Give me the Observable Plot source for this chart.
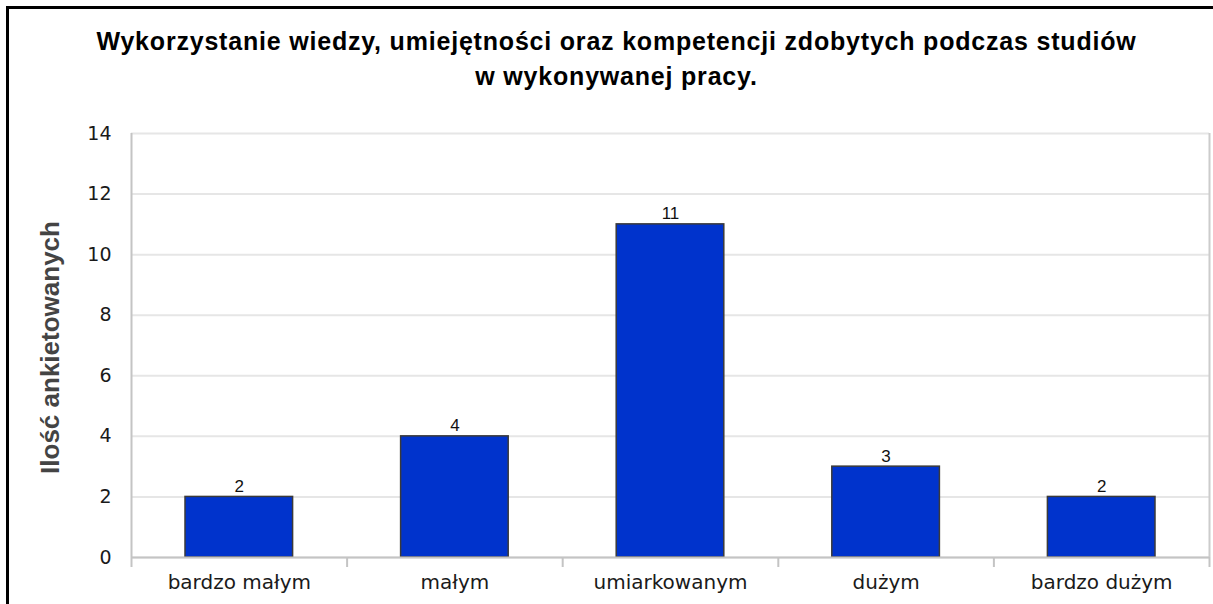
<!DOCTYPE html>
<html><head><meta charset="utf-8">
<script src="https://cdn.jsdelivr.net/npm/d3@7"></script>
<script src="https://cdn.jsdelivr.net/npm/@observablehq/plot@0.6"></script>
<style>
html,body{margin:0;padding:0;background:#fff;overflow:hidden;}
#frame{position:absolute;left:6px;top:6px;width:1220px;height:620px;border-left:3px solid #000;border-top:3px solid #000;box-sizing:border-box;}
#title{position:absolute;left:0;top:24px;width:1233px;text-align:center;font-family:"Liberation Sans",Arial,sans-serif;font-weight:bold;font-size:25px;line-height:35px;color:#000;letter-spacing:0.8px;}
#chart{position:absolute;left:0;top:0;}
</style></head>
<body>
<div id="frame"></div>
<div id="title">Wykorzystanie wiedzy, umiejętności oraz kompetencji zdobytych podczas studiów<br>w wykonywanej pracy.</div>
<div id="chart"></div>
<script>
const categories = ["bardzo małym", "małym", "umiarkowanym", "dużym", "bardzo dużym"];
const values = [2, 4, 11, 3, 2];
const yTicks = [0, 2, 4, 6, 8, 10, 12, 14];
const yLabel = "Ilość ankietowanych";

const data = categories.map((c, i) => ({cat: c, i, value: values[i]}));
const bounds = d3.range(categories.length + 1);

const plot = Plot.plot({
  width: 1213,
  height: 604,
  marginLeft: 131,
  marginRight: 4,
  marginTop: 133,
  marginBottom: 47,
  style: {fontFamily: "'DejaVu Sans', Verdana, sans-serif", background: "transparent", overflow: "visible"},
  x: {domain: [0, categories.length], axis: null},
  y: {domain: [0, 14], axis: null},
  marks: [
    Plot.gridY(yTicks, {stroke: "#e6e6e6", strokeOpacity: 1, strokeWidth: 2}),
    Plot.ruleX([categories.length], {stroke: "#cccccc", strokeWidth: 2}),
    Plot.rectY(data, {x1: "i", x2: d => d.i + 1, y1: 0, y2: "value", insetLeft: 54, insetRight: 54, fill: "#0033cc", stroke: "#3a3a3a", strokeWidth: 1.5}),
    Plot.ruleY([0], {stroke: "#c4c4c4", strokeWidth: 2}),
    Plot.axisX({ticks: bounds, tickSize: 10, tickFormat: () => "", stroke: "#c4c4c4", strokeWidth: 2, label: null}),
    Plot.ruleX([0], {stroke: "#c4c4c4", strokeWidth: 2}),
    Plot.axisX({ticks: data.map(d => d.i + 0.5), tickSize: 0, tickPadding: 17, tickFormat: (t) => categories[Math.floor(t)], fontSize: 20, letterSpacing: 0.5, fill: "#1a1a1a", label: null}),
    Plot.axisY({ticks: yTicks, tickSize: 0, tickPadding: 20, fontSize: 19, fill: "#1a1a1a", label: null}),
    Plot.text(data, {x: d => d.i + 0.5, y: "value", text: d => String(d.value), lineAnchor: "bottom", dy: -5, fontFamily: "'Liberation Sans', Arial, sans-serif", fontSize: 17, fill: "#111"}),
    Plot.text([yLabel], {frameAnchor: "left", textAnchor: "middle", rotate: -90, dx: -81, dy: 2, text: d => d, fontFamily: "'Liberation Sans', Arial, sans-serif", fontWeight: "bold", fontSize: 26, fill: "#444"})
  ]
});
document.getElementById("chart").appendChild(plot);
</script>
</body></html>
